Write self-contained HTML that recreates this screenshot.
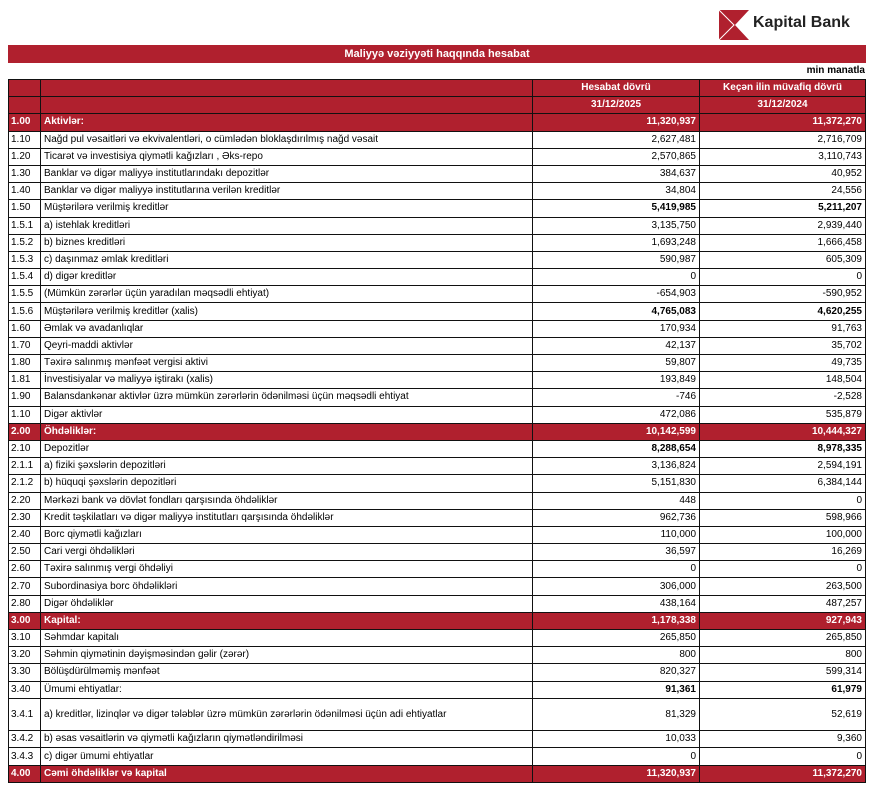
<!DOCTYPE html>
<html><head><meta charset="utf-8"><style>
body{margin:0;width:879px;height:794px;background:#fff;font-family:"Liberation Sans",sans-serif;position:relative;overflow:hidden}
.title{position:absolute;left:8px;top:45px;width:858px;height:18px;background:#b0202e;color:#fff;font-weight:bold;font-size:11px;text-align:center;line-height:18px}
.unit{position:absolute;right:14px;top:65px;font-size:10px;font-weight:bold}
table{position:absolute;left:8px;top:79px;border-collapse:collapse;table-layout:fixed;width:857px}
td{border:1.5px solid #111;font-size:10px;padding:0 3px;height:16.2px;line-height:14px;white-space:nowrap;overflow:hidden}
td:nth-child(3),td:nth-child(4){text-align:right}
td:first-child{padding:0 2px}
tr.r td{background:#b0202e;color:#fff;font-weight:bold}
tr.h td{text-align:center;background:#b0202e;color:#fff;font-weight:bold}
tr.b td:nth-child(3),tr.b td:nth-child(4){font-weight:bold}
tr.t td{height:31.5px}
</style></head><body>
<svg style="position:absolute;left:719px;top:10px" width="30" height="30" viewBox="0 0 30 30"><rect width="30" height="30" fill="#b0202e"/><path d="M0 0 L15 15 L0 30" stroke="#fff" stroke-width="1" fill="none"/><path d="M30 0 L16 15 L30 30" fill="#fff"/></svg>
<div style="position:absolute;left:753px;top:14px;font-size:16px;font-weight:bold;color:#222">Kapital Bank</div>
<div class="title">Maliyyə vəziyyəti haqqında hesabat</div>
<div class="unit">min manatla</div>
<table>
<colgroup><col style="width:32px"><col style="width:492px"><col style="width:167px"><col style="width:166px"></colgroup>
<tr class="h"><td></td><td></td><td>Hesabat dövrü</td><td>Keçən ilin müvafiq dövrü</td></tr>
<tr class="h"><td></td><td></td><td>31/12/2025</td><td>31/12/2024</td></tr>
<tr class="r"><td>1.00</td><td>Aktivlər:</td><td>11,320,937</td><td>11,372,270</td></tr>
<tr><td>1.10</td><td>Nağd pul vəsaitləri və  ekvivalentləri, o cümlədən bloklaşdırılmış nağd vəsait</td><td>2,627,481</td><td>2,716,709</td></tr>
<tr><td>1.20</td><td>Ticarət və investisiya qiymətli kağızları , Əks-repo</td><td>2,570,865</td><td>3,110,743</td></tr>
<tr><td>1.30</td><td>Banklar və digər maliyyə institutlarındakı depozitlər</td><td>384,637</td><td>40,952</td></tr>
<tr><td>1.40</td><td>Banklar və digər maliyyə institutlarına verilən kreditlər</td><td>34,804</td><td>24,556</td></tr>
<tr class="b"><td>1.50</td><td>Müştərilərə verilmiş kreditlər</td><td>5,419,985</td><td>5,211,207</td></tr>
<tr><td>1.5.1</td><td>a) istehlak kreditləri</td><td>3,135,750</td><td>2,939,440</td></tr>
<tr><td>1.5.2</td><td>b) biznes kreditləri</td><td>1,693,248</td><td>1,666,458</td></tr>
<tr><td>1.5.3</td><td>c) daşınmaz əmlak kreditləri</td><td>590,987</td><td>605,309</td></tr>
<tr><td>1.5.4</td><td>d) digər kreditlər</td><td>0</td><td>0</td></tr>
<tr><td>1.5.5</td><td>(Mümkün zərərlər üçün yaradılan məqsədli ehtiyat)</td><td>-654,903</td><td>-590,952</td></tr>
<tr class="b"><td>1.5.6</td><td>Müştərilərə verilmiş kreditlər (xalis)</td><td>4,765,083</td><td>4,620,255</td></tr>
<tr><td>1.60</td><td>Əmlak və avadanlıqlar</td><td>170,934</td><td>91,763</td></tr>
<tr><td>1.70</td><td>Qeyri-maddi aktivlər</td><td>42,137</td><td>35,702</td></tr>
<tr><td>1.80</td><td>Təxirə salınmış mənfəət vergisi aktivi</td><td>59,807</td><td>49,735</td></tr>
<tr><td>1.81</td><td>İnvestisiyalar və maliyyə iştirakı (xalis)</td><td>193,849</td><td>148,504</td></tr>
<tr><td>1.90</td><td>Balansdankənar aktivlər üzrə mümkün zərərlərin ödənilməsi üçün məqsədli ehtiyat</td><td>-746</td><td>-2,528</td></tr>
<tr><td>1.10</td><td>Digər aktivlər</td><td>472,086</td><td>535,879</td></tr>
<tr class="r"><td>2.00</td><td>Öhdəliklər:</td><td>10,142,599</td><td>10,444,327</td></tr>
<tr class="b"><td>2.10</td><td>Depozitlər</td><td>8,288,654</td><td>8,978,335</td></tr>
<tr><td>2.1.1</td><td>a) fiziki şəxslərin depozitləri</td><td>3,136,824</td><td>2,594,191</td></tr>
<tr><td>2.1.2</td><td>b) hüquqi şəxslərin depozitləri</td><td>5,151,830</td><td>6,384,144</td></tr>
<tr><td>2.20</td><td>Mərkəzi bank və dövlət fondları qarşısında öhdəliklər</td><td>448</td><td>0</td></tr>
<tr><td>2.30</td><td>Kredit təşkilatları və digər maliyyə institutları qarşısında öhdəliklər</td><td>962,736</td><td>598,966</td></tr>
<tr><td>2.40</td><td>Borc qiymətli kağızları</td><td>110,000</td><td>100,000</td></tr>
<tr><td>2.50</td><td>Cari vergi öhdəlikləri</td><td>36,597</td><td>16,269</td></tr>
<tr><td>2.60</td><td>Təxirə salınmış vergi öhdəliyi</td><td>0</td><td>0</td></tr>
<tr><td>2.70</td><td>Subordinasiya borc öhdəlikləri</td><td>306,000</td><td>263,500</td></tr>
<tr><td>2.80</td><td>Digər öhdəliklər</td><td>438,164</td><td>487,257</td></tr>
<tr class="r"><td>3.00</td><td>Kapital:</td><td>1,178,338</td><td>927,943</td></tr>
<tr><td>3.10</td><td>Səhmdar kapitalı</td><td>265,850</td><td>265,850</td></tr>
<tr><td>3.20</td><td>Səhmin qiymətinin dəyişməsindən gəlir (zərər)</td><td>800</td><td>800</td></tr>
<tr><td>3.30</td><td>Bölüşdürülməmiş mənfəət</td><td>820,327</td><td>599,314</td></tr>
<tr class="b"><td>3.40</td><td>Ümumi ehtiyatlar:</td><td>91,361</td><td>61,979</td></tr>
<tr class="t"><td>3.4.1</td><td>a) kreditlər, lizinqlər və digər tələblər üzrə mümkün zərərlərin ödənilməsi üçün adi ehtiyatlar</td><td>81,329</td><td>52,619</td></tr>
<tr><td>3.4.2</td><td>b) əsas vəsaitlərin və qiymətli kağızların qiymətləndirilməsi</td><td>10,033</td><td>9,360</td></tr>
<tr><td>3.4.3</td><td>c) digər ümumi ehtiyatlar</td><td>0</td><td>0</td></tr>
<tr class="r"><td>4.00</td><td>Cəmi öhdəliklər və kapital</td><td>11,320,937</td><td>11,372,270</td></tr>
</table>
</body></html>
